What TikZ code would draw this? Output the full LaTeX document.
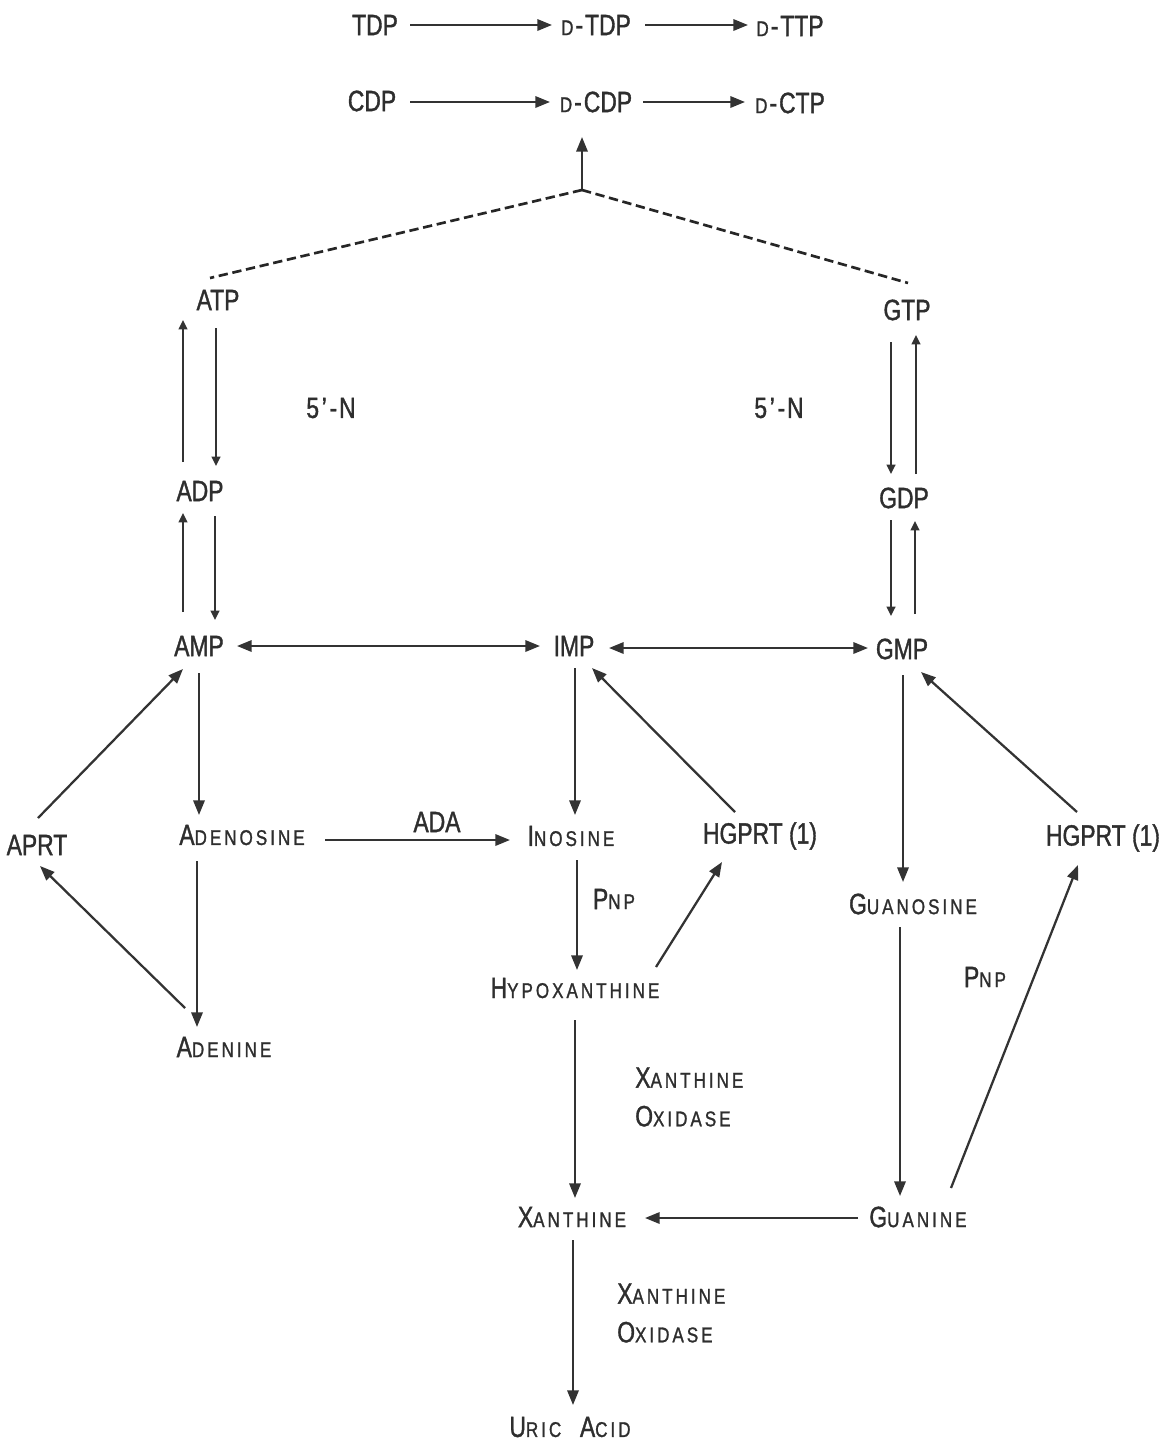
\documentclass[tikz,border=0pt]{standalone}
\usepackage{fontspec}
\setmainfont[FakeStretch=0.78,FakeBold=1.2]{Liberation Sans}
\newfontfamily\scfont[FakeStretch=0.8,FakeBold=1.2,LetterSpace=14]{Liberation Sans}
\usetikzlibrary{arrows.meta,calc}
% small-caps style words: large initial, smaller spaced capitals
\newcommand\smc[2]{#1{\fontsize{16}{18}\scfont #2}}
\newcommand\dpre{{\fontsize{16}{18}\scfont D}\kern1.5pt-\kern1.5pt}
\tikzset{
  lbl/.style={inner sep=0pt, font=\fontsize{22}{26}\selectfont, text=black!82},
  arr/.style={line width=1.7pt, draw=black!80, -{Triangle[length=11pt,width=8.5pt]}},
  arrs/.style={line width=1.6pt, draw=black!80, -{Triangle[length=7pt,width=6.5pt]}},
  both/.style={line width=1.7pt, draw=black!80, {Triangle[length=11pt,width=8.5pt]}-{Triangle[length=11pt,width=8.5pt]}},
  dashline/.style={line width=2pt, draw=black!85, dash pattern=on 7pt off 3.5pt}
}
\begin{document}
\begin{tikzpicture}[x=0.75pt,y=-0.75pt]
\useasboundingbox (0,0) rectangle (1173,1446);

% deoxynucleotide rows
\node[lbl] (tdp)  at (375,25)  {TDP};
\node[lbl] (dtdp) at (596,25)  {\dpre TDP};
\node[lbl] (dttp) at (790,26)  {\dpre TTP};
\node[lbl] (cdp)  at (372,101) {CDP};
\node[lbl] (dcdp) at (596,102) {\dpre CDP};
\node[lbl] (dctp) at (790,103) {\dpre CTP};
\coordinate (apex) at (582,190);

% nucleotides
\node[lbl] (atp) at (218,300) {ATP};
\node[lbl] (gtp) at (907,310) {GTP};
\node[lbl] (adp) at (200,491) {ADP};
\node[lbl] (gdp) at (904,498) {GDP};
\node[lbl] (amp) at (199,646) {AMP};
\node[lbl] (imp) at (574,646) {IMP};
\node[lbl] (gmp) at (902,649) {GMP};
\node[lbl] (n5a) at (331,408) {5\kern2pt’\kern2pt-\kern1.5ptN};
\node[lbl] (n5b) at (779,408) {5\kern2pt’\kern2pt-\kern1.5ptN};

% nucleosides, bases and enzymes
\node[lbl] (aprt)      at (37,845)   {APRT};
\node[lbl] (adenosine) at (242,835)  {\smc{A}{DENOSINE}};
\node[lbl] (ada)       at (437,822)  {ADA};
\node[lbl] (inosine)   at (571,836)  {\smc{I}{NOSINE}};
\node[lbl] (hgprtA)    at (760,836)  {HGPRT (1)};
\node[lbl] (hgprtB)    at (1103,838) {HGPRT (1)};
\node[lbl] (pnpA)      at (614,899)  {\smc{P}{NP}};
\node[lbl] (guanosine) at (913,904)  {\smc{G}{UANOSINE}};
\node[lbl] (pnpB)      at (985,977)  {\smc{P}{NP}};
\node[lbl] (hypox)     at (575,988)  {\smc{H}{YPOXANTHINE}};
\node[lbl] (adenine)   at (224,1047) {\smc{A}{DENINE}};
\node[lbl, anchor=west, align=left, font=\fontsize{22}{29}\selectfont] (xoA) at (635,1097) {\smc{X}{ANTHINE}\\\smc{O}{XIDASE}};
\node[lbl] (xanthine)  at (572,1217) {\smc{X}{ANTHINE}};
\node[lbl] (guanine)   at (918,1217) {\smc{G}{UANINE}};
\node[lbl, anchor=west, align=left, font=\fontsize{22}{29}\selectfont] (xoB) at (617,1313) {\smc{X}{ANTHINE}\\\smc{O}{XIDASE}};
\node[lbl] (uric)      at (570,1427) {\smc{U}{RIC}\hspace{14pt}\smc{A}{CID}};

% top reactions
\draw[arr] ($(tdp)+(35,0)$) -- ($(dtdp)+(-44,0)$);
\draw[arr] ($(dtdp)+(49,0)$) -- ($(dttp)+(-42,-1)$);
\draw[arr] ($(cdp)+(38,1)$) -- ($(dcdp)+(-46,0)$);
\draw[arr] ($(dcdp)+(47,0)$) -- ($(dctp)+(-45,-1)$);
\draw[arr] (apex) -- ($(dcdp)+(-14,35)$);
\draw[dashline] (apex) -- ($(atp)+(-8,-22)$);
\draw[dashline] (apex) -- ($(gtp)+(1,-27)$);

% phosphorylation ladders
\draw[arrs] ($(adp)+(-17,-29)$) -- ($(atp)+(-35,20)$);
\draw[arrs] ($(atp)+(-2,28)$) -- ($(adp)+(16,-25)$);
\draw[arrs] ($(amp)+(-16,-34)$) -- ($(adp)+(-17,22)$);
\draw[arrs] ($(adp)+(15,25)$) -- ($(amp)+(16,-26)$);
\draw[arrs] ($(gtp)+(-16,32)$) -- ($(gdp)+(-13,-24)$);
\draw[arrs] ($(gdp)+(12,-24)$) -- ($(gtp)+(9,25)$);
\draw[arrs] ($(gdp)+(-13,22)$) -- ($(gmp)+(-11,-33)$);
\draw[arrs] ($(gmp)+(13,-35)$) -- ($(gdp)+(11,23)$);

% monophosphate interconversion
\draw[both] ($(amp)+(38,0)$) -- ($(imp)+(-34,0)$);
\draw[both] ($(imp)+(35,2)$) -- ($(gmp)+(-34,-1)$);

% degradation and salvage
\draw[arr] ($(amp)+(0,27)$) -- ($(adenosine)+(-43,-20)$);
\draw[arr] ($(adenosine)+(83,5)$) -- ($(inosine)+(-61,4)$);
\draw[arr] ($(imp)+(1,22)$) -- ($(inosine)+(4,-21)$);
\draw[arr] ($(hgprtA)+(-25,-24)$) -- ($(imp)+(18,22)$);
\draw[arr] ($(inosine)+(6,24)$) -- ($(hypox)+(2,-18)$);
\draw[arr] ($(hypox)+(81,-21)$) -- ($(hgprtA)+(-38,26)$);
\draw[arr] ($(hypox)+(0,32)$) -- ($(xanthine)+(3,-19)$);
\draw[arr] ($(xanthine)+(1,23)$) -- ($(uric)+(3,-22)$);
\draw[arr] ($(guanine)+(-60,1)$) -- ($(xanthine)+(73,1)$);
\draw[arr] ($(gmp)+(1,26)$) -- ($(guanosine)+(-10,-22)$);
\draw[arr] ($(guanosine)+(-13,23)$) -- ($(guanine)+(-18,-21)$);
\draw[arr] ($(guanine)+(33,-29)$) -- ($(hgprtB)+(-25,27)$);
\draw[arr] ($(hgprtB)+(-26,-26)$) -- ($(gmp)+(19,23)$);
\draw[arr] ($(aprt)+(1,-27)$) -- ($(amp)+(-16,23)$);
\draw[arr] ($(adenine)+(-39,-39)$) -- ($(aprt)+(3,21)$);
\draw[arr] ($(adenosine)+(-45,26)$) -- ($(adenine)+(-27,-20)$);
\end{tikzpicture}
\end{document}
